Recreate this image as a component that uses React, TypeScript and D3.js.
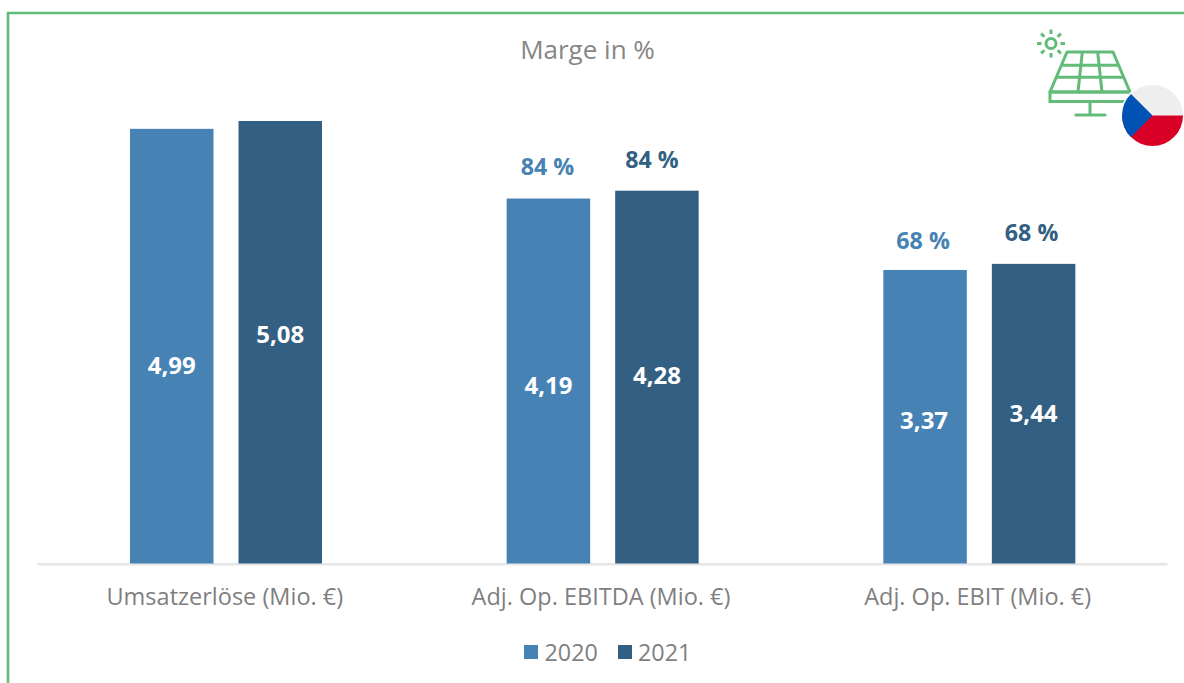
import React from "react";
import * as d3 from "d3";

const categories = ["Umsatzerlöse (Mio. €)", "Adj. Op. EBITDA (Mio. €)", "Adj. Op. EBIT (Mio. €)"];
const seriesNames = ["2020", "2021"];
const values2020 = [4.99, 4.19, 3.37];
const values2021 = [5.08, 4.28, 3.44];
const margins2020 = [null, "84 %", "68 %"];
const margins2021 = [null, "84 %", "68 %"];
const colors = ["#4682b4", "#335f82"];
const font = "'Open Sans', sans-serif";

// label nudges relative to the default placement: [series][category]
const valueDy = [[19, 4, 4], [-8, -2, 0]];
const valueDx = [[0, 0, -1], [0, 0, 0]];
const marginDx = [[0, -1, -2], [0, -5, -2]];
const marginDy = [[0, 0, 3], [0, 1, 1]];
const catDx = [-1, -1.5, -1.5];

const W = 1184, H = 683;
const baseY = 563.5;
const x0 = d3.scaleBand<string>().domain(categories).range([37.5, 1167.5]).paddingInner(0).paddingOuter(0);
const x1 = d3.scaleBand<string>().domain(seriesNames).range([92.5, 284.5]).paddingInner(0.2305).paddingOuter(0);
const y = d3.scaleLinear().domain([0, 5.08]).range([baseY, 121]);
const fmt = (v: number) => v.toFixed(2).replace(".", ",");

const green = "#62bb78";

function SolarIcon() {
  const rays = d3.range(8).map((i) => (i * Math.PI) / 4);
  const px = (t: number, v: number) => {
    const l = 1067 + (1050 - 1067) * v;
    const r = 1113 + (1130 - 1113) * v;
    return [l + (r - l) * t, 52 + (92 - 52) * v];
  };
  const seg = (a: number[], b: number[], k: string) => (
    <line key={k} x1={a[0]} y1={a[1]} x2={b[0]} y2={b[1]} stroke={green} strokeWidth={3} />
  );
  return (
    <g>
      <circle cx={1051} cy={43.5} r={5} fill="none" stroke={green} strokeWidth={3} />
      {rays.map((a, i) => (
        <line
          key={i}
          x1={1051 + Math.cos(a) * 9.5}
          y1={43.5 + Math.sin(a) * 9.5}
          x2={1051 + Math.cos(a) * 14}
          y2={43.5 + Math.sin(a) * 14}
          stroke={green}
          strokeWidth={3}
        />
      ))}
      <path d="M1067 52 L1113 52 L1130 92 L1050 92 Z" fill="none" stroke={green} strokeWidth={3} strokeLinejoin="round" />
      <rect x={1050} y={92} width={80} height={9.5} fill="none" stroke={green} strokeWidth={3} />
      {[1 / 3, 2 / 3].map((t, i) => seg(px(t, 0), px(t * 0.9 + 0.05, 1), "v" + i))}
      {[0.33, 0.63].map((v, i) => seg(px(0, v), px(1, v), "h" + i))}
      <line x1={1090} y1={101} x2={1090} y2={115} stroke={green} strokeWidth={3} />
      <line x1={1076} y1={115} x2={1105} y2={115} stroke={green} strokeWidth={3.2} strokeLinecap="round" />
    </g>
  );
}

function FlagIcon() {
  const cx = 1152.5, cy = 115.5, r = 30.5;
  return (
    <g>
      <defs>
        <clipPath id="flagClip">
          <circle cx={cx} cy={cy} r={r} />
        </clipPath>
      </defs>
      <circle cx={cx} cy={cy} r={r + 1.5} fill="#fff" />
      <g clipPath="url(#flagClip)">
        <rect x={cx - r} y={cy - r} width={2 * r} height={r} fill="#eeeeee" />
        <rect x={cx - r} y={cy} width={2 * r} height={r} fill="#d80027" />
        <path d={`M${cx - 31} ${cy - 31} L${cx} ${cy} L${cx - 31} ${cy + 31} Z`} fill="#0052b4" />
      </g>
    </g>
  );
}

export default function App() {
  const series = [values2020, values2021];
  const margins = [margins2020, margins2021];
  return (
    <svg
      width={W}
      height={H}
      viewBox={`0 0 ${W} ${H}`}
      style={{ position: "absolute", left: 0, top: 0, background: "#fff", display: "block" }}
      fontFamily={font}
    >
      <path d={`M8 683 V13 H${W}`} fill="none" stroke={green} strokeWidth={2.6} />
      <text x={587.5} y={59} textAnchor="middle" fontSize={26} fill="#868686">Marge in %</text>

      <line x1={37.5} x2={1167.5} y1={baseY + 0.8} y2={baseY + 0.8} stroke="#e6e6e6" strokeWidth={2.4} />

      {categories.map((c, ci) => {
        const cx = x0(c)!;
        return (
          <g key={c}>
            {seriesNames.map((s, si) => {
              const v = series[si][ci];
              const bx = cx + x1(s)!;
              const bw = x1.bandwidth();
              const top = y(v);
              const m = margins[si][ci];
              return (
                <g key={s}>
                  <rect x={bx} y={top} width={bw} height={baseY - top} fill={colors[si]} />
                  <text x={bx + bw / 2 + valueDx[si][ci]} y={(top + baseY) / 2 + 8.5 + valueDy[si][ci]} textAnchor="middle" fontSize={24} fontWeight={700} fill="#fff">{fmt(v)}</text>
                  {m && (
                    <text x={bx + bw / 2 + marginDx[si][ci]} y={top - 24 + marginDy[si][ci]} textAnchor="middle" fontSize={23.2} fontWeight={700} fill={colors[si]}>{m}</text>
                  )}
                </g>
              );
            })}
            <text x={cx + x0.bandwidth() / 2 + catDx[ci]} y={604.5} textAnchor="middle" fontSize={23.5} fill="#7f7f7f">{c}</text>
          </g>
        );
      })}

      {seriesNames.map((s, i) => (
        <g key={s}>
          <rect x={[524, 618][i]} y={645} width={14} height={14} fill={colors[i]} />
          <text x={[544.5, 638][i]} y={660.5} fontSize={23.3} fill="#7f7f7f">{s}</text>
        </g>
      ))}

      <SolarIcon />
      <FlagIcon />
    </svg>
  );
}
